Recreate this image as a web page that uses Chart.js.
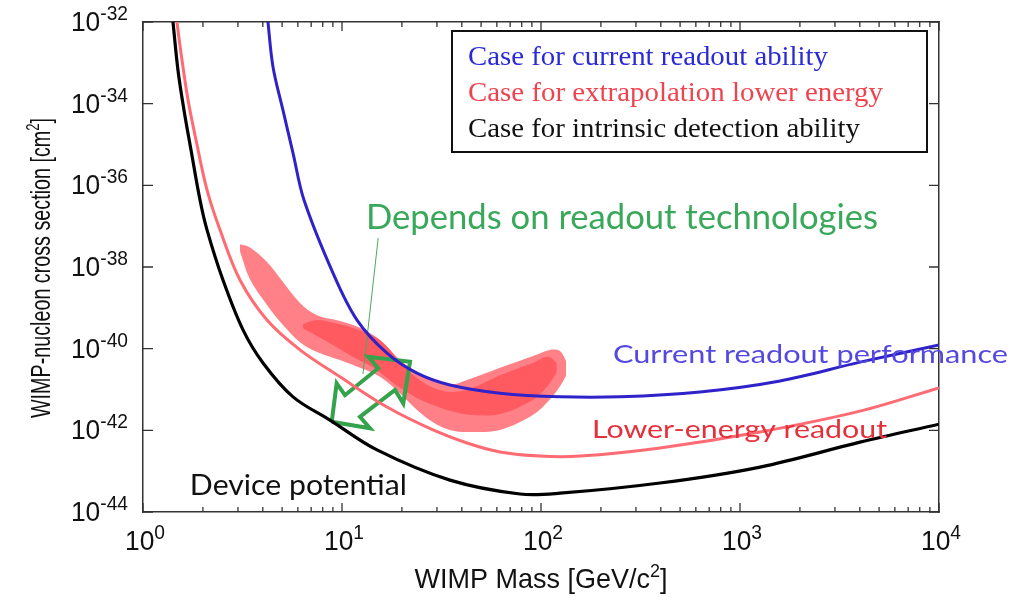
<!DOCTYPE html>
<html><head><meta charset="utf-8">
<script src="https://cdn.jsdelivr.net/npm/chart.js@4.4.1/dist/chart.umd.min.js"></script>
<style>html,body{margin:0;padding:0;background:#fff;}canvas{display:block;}</style>
</head><body>
<canvas id="c" width="1019" height="601"></canvas>
<script>
// ---------------- data ----------------
const blueMass = [4.15, 4.247, 4.501, 5.051, 5.673, 6.442, 9.013, 11.90, 16.83, 23.82, 34.88, 62.23, 124.6, 249.5, 629.5, 1589, 4009, 10000];
const blueLogSigma = [-31.46, -32.0, -33.10, -34.16, -35.21, -36.36, -38.15, -39.30, -40.11, -40.60, -40.89, -41.09, -41.18, -41.18, -41.06, -40.79, -40.33, -39.91];

const redMass = [1.448, 1.482, 1.570, 1.684, 1.847, 2.097, 2.437, 3.072, 4.199, 6.151, 9.770, 16.83, 28.66, 42.47, 62.23, 98.86, 157.0, 396.3, 1261, 4009, 10000];
const redLogSigma = [-31.46, -32.0, -32.93, -33.91, -34.89, -36.11, -37.09, -38.32, -39.30, -40.03, -40.69, -41.43, -41.99, -42.31, -42.53, -42.63, -42.63, -42.43, -42.04, -41.53, -40.96];

const blackMass = [1.382, 1.415, 1.499, 1.607, 1.742, 1.934, 2.097, 2.523, 3.181, 4.009, 5.673, 8.703, 14.99, 34.88, 78.45, 124.6, 396.3, 1261, 4009, 10000];
const blackLogSigma = [-31.46, -32.0, -33.18, -34.16, -35.13, -36.36, -37.09, -38.32, -39.54, -40.35, -41.18, -41.75, -42.48, -43.22, -43.56, -43.54, -43.29, -42.90, -42.29, -41.85];

const outerMass = [3.072, 3.448, 4.199, 5.051, 6.151, 7.489, 9.770, 12.32, 15.52, 19.56, 23.82, 28.66, 34.88, 42.47, 62.23, 91.24, 111.0, 124.6, 133.5];
const outerTopLog = [-37.44, -37.52, -37.88, -38.37, -38.88, -39.18, -39.32, -39.49, -39.79, -40.28, -40.60, -40.79, -40.89, -40.77, -40.47, -40.18, -40.03, -40.06, -40.30];
const outerBotLog = [-37.62, -38.30, -38.93, -39.42, -39.84, -40.08, -40.28, -40.47, -40.69, -41.09, -41.50, -41.80, -41.99, -42.04, -41.99, -41.62, -41.24, -40.92, -40.67];

const innerMass = [6.37, 7.49, 9.22, 10.97, 13.05, 14.99, 16.83, 19.56, 23.82, 28.66, 34.88, 43.98, 62.2, 91.2, 108.4, 120.0];
const innerTopLog = [-39.40, -39.30, -39.38, -39.47, -39.60, -39.74, -39.95, -40.33, -40.72, -40.96, -41.06, -40.98, -40.65, -40.35, -40.20, -40.35];
const innerBotLog = [-39.50, -39.69, -39.94, -40.16, -40.35, -40.52, -40.72, -40.96, -41.21, -41.38, -41.52, -41.62, -41.60, -41.25, -40.90, -40.58];

const arrowMass = [8.88, 9.40, 10.35, 15.2, 13.56, 21.97, 20.32, 18.46, 12.31, 13.83, 8.88];
const arrowLogSigma = [-41.79, -40.85, -41.14, -40.48, -40.20, -40.32, -41.34, -41.01, -41.67, -41.95, -41.79];

const leaderMass = [15.2, 12.75];
const leaderLogSigma = [-37.29, -40.62];

const xMajorTicks = [1, 10, 100, 1000, 10000];
const xTickExponents = ['0', '1', '2', '3', '4'];
const xMinorMultipliers = [2, 3, 4, 5, 6, 7, 8, 9];
const yTickLogs = [-32, -34, -36, -38, -40, -42, -44];
const yTickExponents = ['-32', '-34', '-36', '-38', '-40', '-42', '-44'];

const legendLines = ['Case for current readout ability', 'Case for extrapolation lower energy', 'Case for intrinsic detection ability'];
const annTexts = ['Depends on readout technologies', 'Current readout performance', 'Lower-energy readout', 'Device potential'];
const annMass = [13.2, 230, 180.5, 1.72];
const annLogSigma = [-37.07, -40.35, -42.19, -43.58];

// ---------------- styling ----------------
const C_BLUE = '#2f22c8', C_RED = '#ff6b72', C_BLACK = '#000000', C_GREEN = '#35a24c';
const legendColors = ['#2a2ad6', '#ee4450', '#111111'];
const annStyle = [
  {size: 35, width: 512, color: '#3aa85a'},
  {size: 25.5, width: 395, color: '#5448e0'},
  {size: 25.5, width: 295, color: '#e5303c'},
  {size: 28, width: 217, color: '#111111'}
];
const SANS = '"Liberation Sans", Arial, sans-serif';

const toPts = (xs, ls) => xs.map((m, i) => ({x: m, y: Math.pow(10, ls[i])}));

function lineDs(xs, ls, color, w, extra) {
  return Object.assign({data: toPts(xs, ls), showLine: true, borderColor: color, borderWidth: w,
    pointRadius: 0, fill: false, tension: 0.35}, extra || {});
}

const datasets = [
  lineDs(blueMass, blueLogSigma, C_BLUE, 3),
  lineDs(redMass, redLogSigma, C_RED, 3),
  lineDs(blackMass, blackLogSigma, C_BLACK, 3.2),
  lineDs(arrowMass, arrowLogSigma, C_GREEN, 4, {tension: 0, borderJoinStyle: 'miter'}),
  lineDs(leaderMass, leaderLogSigma, '#4aa860', 1, {tension: 0}),
  lineDs(innerMass, innerTopLog, 'transparent', 1, {fill: '+1', backgroundColor: '#ff5a60'}),
  lineDs(innerMass, innerBotLog, 'transparent', 1),
  lineDs(outerMass, outerTopLog, 'transparent', 1, {fill: '+1', backgroundColor: '#ff8086'}),
  lineDs(outerMass, outerBotLog, 'transparent', 1)
];

// ---------------- text helpers ----------------
function drawRich(ctx, parts, x, y, o) {
  ctx.save();
  ctx.fillStyle = o.color || '#000';
  ctx.textBaseline = 'alphabetic';
  ctx.textAlign = 'left';
  let total = 0;
  const widths = parts.map(p => {
    ctx.font = (p.sup ? o.supSize : o.size) + 'px ' + o.family;
    const w = ctx.measureText(p.t).width; total += w; return w;
  });
  const sx = o.width ? o.width / total : (o.sx || 1);
  const start = o.align === 'right' ? x - total * sx : o.align === 'center' ? x - total * sx / 2 : x;
  ctx.translate(start, y);
  ctx.scale(sx, 1);
  let cx = 0;
  parts.forEach((p, i) => {
    ctx.font = (p.sup ? o.supSize : o.size) + 'px ' + o.family;
    ctx.fillText(p.t, cx, p.sup ? -o.supRise : 0);
    cx += widths[i];
  });
  ctx.restore();
}
function fitText(ctx, text, x, y, size, width, family, color) {
  ctx.save();
  ctx.font = size + 'px ' + family;
  const w = ctx.measureText(text).width;
  ctx.translate(x, y);
  ctx.scale(width / w, 1);
  ctx.fillStyle = color;
  ctx.textBaseline = 'alphabetic';
  ctx.textAlign = 'left';
  ctx.fillText(text, 0, 0);
  ctx.restore();
}

const decor = {
  id: 'decor',
  afterDraw(chart) {
    const ctx = chart.ctx, xs = chart.scales.x, ys = chart.scales.y, a = chart.chartArea;
    ctx.save();
    ctx.strokeStyle = '#333'; ctx.lineWidth = 1.3;
    ctx.beginPath();
    xMajorTicks.forEach((d, i) => {
      const px = xs.getPixelForValue(d);
      ctx.moveTo(px, a.bottom); ctx.lineTo(px, a.bottom - 9);
      ctx.moveTo(px, a.top); ctx.lineTo(px, a.top + 9);
      if (i < xMajorTicks.length - 1) {
        xMinorMultipliers.forEach(k => {
          const p = xs.getPixelForValue(d * k);
          ctx.moveTo(p, a.bottom); ctx.lineTo(p, a.bottom - 5);
          ctx.moveTo(p, a.top); ctx.lineTo(p, a.top + 5);
        });
      }
    });
    yTickLogs.forEach(l => {
      const py = ys.getPixelForValue(Math.pow(10, l));
      ctx.moveTo(a.left, py); ctx.lineTo(a.left + 10, py);
      ctx.moveTo(a.right, py); ctx.lineTo(a.right - 10, py);
    });
    ctx.stroke();
    ctx.restore();

    const tickFont = {size: 27.5, supSize: 20, supRise: 11, family: SANS, color: '#111', sx: 0.96};
    xMajorTicks.forEach((d, i) => {
      const px = xs.getPixelForValue(d);
      drawRich(ctx, [{t: '10'}, {t: xTickExponents[i], sup: true}], px + 2, a.bottom + 38, Object.assign({align: 'center'}, tickFont));
    });
    yTickLogs.forEach((l, i) => {
      const py = ys.getPixelForValue(Math.pow(10, l));
      drawRich(ctx, [{t: '10'}, {t: yTickExponents[i], sup: true}], a.left - 15, py + 9, Object.assign({align: 'right'}, tickFont));
    });

    // axis titles
    drawRich(ctx, [{t: 'WIMP Mass [GeV/c'}, {t: '2', sup: true}, {t: ']'}], 541, 588,
      {size: 28.5, supSize: 19, supRise: 11, family: SANS, color: '#111', align: 'center', width: 253});
    ctx.save();
    ctx.translate(50, 268);
    ctx.rotate(-Math.PI / 2);
    drawRich(ctx, [{t: 'WIMP-nucleon cross section [cm'}, {t: '2', sup: true}, {t: ']'}], 0, 0,
      {size: 28.5, supSize: 19, supRise: 11, family: SANS, color: '#111', align: 'center', width: 300});
    ctx.restore();

    // annotations
    annTexts.forEach((t, i) => {
      const px = xs.getPixelForValue(annMass[i]);
      const py = ys.getPixelForValue(Math.pow(10, annLogSigma[i]));
      fitText(ctx, t, px, py, annStyle[i].size, annStyle[i].width, 'Lato, "Open Sans", sans-serif', annStyle[i].color);
    });

    // legend box
    ctx.save();
    ctx.fillStyle = '#fff';
    ctx.fillRect(452, 31, 475, 121);
    ctx.strokeStyle = '#111'; ctx.lineWidth = 2;
    ctx.strokeRect(452, 31, 475, 121);
    ctx.restore();
    const legW = [360, 415, 392];
    legendLines.forEach((t, i) => {
      fitText(ctx, t, 468, 65 + i * 36, 27, legW[i], '"Liberation Serif", "Times New Roman", serif', legendColors[i]);
    });
  }
};

const hiddenAxis = (pos, type, extra) => Object.assign({
  type: type, position: pos, display: true,
  ticks: {display: false},
  grid: {display: false, drawTicks: false},
  border: {display: true, color: '#333', width: 1.5}
}, extra);

new Chart(document.getElementById('c'), {
  type: 'scatter',
  data: {datasets: datasets},
  options: {
    responsive: false,
    animation: false,
    layout: {padding: {left: 143, top: 22, right: 80, bottom: 89}},
    plugins: {legend: {display: false}, tooltip: {enabled: false}},
    scales: {
      x: hiddenAxis('bottom', 'logarithmic', {min: 1, max: 10000}),
      y: hiddenAxis('left', 'logarithmic', {min: 1e-44, max: 1e-32}),
      x2: hiddenAxis('top', 'linear', {min: 0, max: 1}),
      y2: hiddenAxis('right', 'linear', {min: 0, max: 1})
    }
  },
  plugins: [decor]
});
</script>
</body></html>
